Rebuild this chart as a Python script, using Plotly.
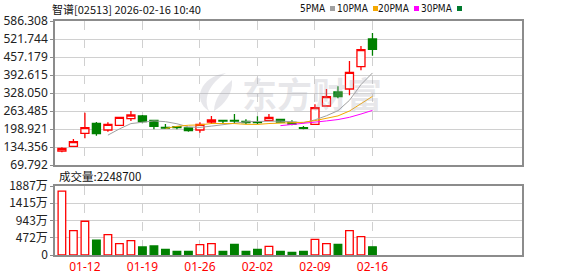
import plotly.graph_objects as go
import pandas as pd

# ---------------- data ----------------
dates = ["01-08", "01-09", "01-12", "01-13", "01-14", "01-15", "01-16",
         "01-19", "01-20", "01-21", "01-22", "01-23",
         "01-26", "01-27", "01-28", "01-29", "01-30",
         "02-02", "02-03", "02-04", "02-05", "02-06",
         "02-09", "02-10", "02-11", "02-12", "02-13", "02-16"]
opens = [120.0, 136.9, 183.5, 219.4, 195.3, 212.2, 235.9,
         245.6, 230.1, 205.0, 207.2, 202.5,
         195.3, 224.0, 230.1, 230.1, 226.5,
         225.0, 230.1, 233.7, 222.9, 203.6,
         215.8, 281.4, 331.6, 342.4, 422.4, 521.7]
highs = [133.3, 163.0, 257.4, 224.0, 223.0, 240.9, 263.5,
         249.1, 231.0, 216.8, 209.7, 203.0,
         223.0, 245.6, 230.5, 252.7, 233.7,
         244.5, 252.7, 234.5, 230.1, 209.7,
         287.5, 342.4, 352.1, 442.8, 496.6, 543.3]
lows = [115.3, 136.0, 165.6, 174.9, 189.2, 210.0, 227.8,
        219.4, 197.8, 198.9, 197.8, 189.2,
        185.6, 216.8, 216.8, 217.9, 215.8,
        215.8, 229.0, 222.0, 212.2, 197.8,
        214.0, 280.0, 309.0, 319.8, 409.5, 461.8]
closes = [129.7, 153.4, 203.6, 182.1, 215.8, 240.9, 249.1,
          225.1, 208.6, 202.5, 203.6, 192.8,
          215.8, 231.2, 227.6, 227.6, 221.5,
          222.0, 240.9, 224.0, 216.8, 201.4,
          275.3, 314.8, 314.8, 402.3, 483.4, 484.8]
volumes = [17450000, 6690000, 9230000, 4030000, 5590000, 3120000, 3950000,
           2190000, 2470000, 1560000, 1010000, 1010000,
           2850000, 3120000, 1010000, 2930000, 1010000,
           1560000, 2380000, 1010000, 740000, 1010000,
           4300000, 3120000, 2930000, 6690000, 5040000, 2248700]

price_ticks = [69.792, 134.356, 198.921, 263.485, 328.050, 392.615, 457.179, 521.744, 586.308]
price_tick_text = ["69.792", "134.356", "198.921", "263.485", "328.050",
                   "392.615", "457.179", "521.744", "586.308"]
vol_ticks = [0, 4717500, 9435000, 14152500, 18870000]
vol_tick_text = ["0", "472万", "943万", "1415万", "1887万"]
x_tick_labels = ["01-12", "01-19", "01-26", "02-02", "02-09", "02-16"]

title_text = "智谱[02513] 2026-02-16 10:40"
vol_title = "成交量:2248700"
watermark = "东方财富"
ma_names = ["5PMA", "10PMA", "20PMA", "30PMA"]
ma_windows = [5, 10, 20, 30]
ma_colors = ["#a0a0a0", "#f5a800", "#ff00ff", "#007a2e"]

# ---------------- geometry helpers ----------------
W, H = 578, 276
L, R, T, B = 55, 522, 21, 255


def px(x):
    return (x - L) / (R - L)


def py(y):
    return (B - y) / (B - T)


RED = "#ff0000"
GREEN = "#008000"
GRID = "#d0d0d0"
AXIS = "#8c8c8c"

xs = list(range(len(dates)))
close_s = pd.Series(closes)

fig = go.Figure()

fig.add_trace(go.Candlestick(
    x=xs, open=opens, high=highs, low=lows, close=closes,
    xaxis="x2", yaxis="y2",
    increasing=dict(line=dict(color=RED, width=1.3), fillcolor="#ffffff"),
    decreasing=dict(line=dict(color=GREEN, width=1.3), fillcolor=GREEN),
    whiskerwidth=0, showlegend=False, hoverinfo="skip",
))

for name, win, col in zip(ma_names, ma_windows, ma_colors):
    ma = close_s.rolling(win).mean()
    fig.add_trace(go.Scatter(
        x=xs, y=ma, mode="lines", line=dict(color=col, width=1),
        xaxis="x2", yaxis="y2", showlegend=False, hoverinfo="skip", name=name,
    ))

up = [c >= o for o, c in zip(opens, closes)]
fig.add_trace(go.Bar(
    x=xs, y=volumes, width=0.66,
    marker=dict(color=["#ffffff" if u else GREEN for u in up],
                line=dict(color=[RED if u else GREEN for u in up], width=1.3)),
    xaxis="x", yaxis="y", showlegend=False, hoverinfo="skip",
))

tick_idx = [dates.index(d) for d in x_tick_labels]
xrange = [-0.6, 40.0]

common_x = dict(range=xrange, tickvals=tick_idx, showgrid=True, gridcolor=GRID,
                griddash="dash", gridwidth=1, showline=True, linecolor=AXIS,
                linewidth=1.5, mirror=True, ticks="", zeroline=False, fixedrange=True,
                automargin=False)
common_y = dict(showgrid=True, gridcolor=GRID, showline=True, linecolor=AXIS,
                linewidth=1.5, mirror=True, ticks="outside", ticklen=3, tickcolor=AXIS,
                zeroline=False, fixedrange=True, automargin=False)

fig.update_layout(
    template="none",
    width=W, height=H,
    margin=dict(l=L, r=W - R, t=T, b=H - B, pad=0),
    paper_bgcolor="#ffffff", plot_bgcolor="#ffffff",
    font=dict(family="Noto Sans, DejaVu Sans, sans-serif", size=12, color="#222222"),
    xaxis=dict(**common_x, anchor="y", ticktext=x_tick_labels,
               tickfont=dict(color=RED, size=12)),
    xaxis2=dict(**common_x, anchor="y2", matches="x", showticklabels=False,
                rangeslider=dict(visible=False)),
    yaxis=dict(**common_y, domain=[0, py(186)], range=[0, vol_ticks[-1]],
               tickvals=vol_ticks, ticktext=vol_tick_text,
               tickfont=dict(family="Noto Sans CJK SC, Noto Sans, sans-serif", size=12)),
    yaxis2=dict(**common_y, domain=[py(165), 1], range=[price_ticks[0], price_ticks[-1]],
                tickvals=price_ticks, ticktext=price_tick_text),
    boxgap=0.3, boxgroupgap=0.0,
    hovermode=False,
)

annotations = [
    dict(text=title_text, x=px(50), y=py(9), xref="paper", yref="paper",
         xanchor="left", yanchor="middle", showarrow=False,
         font=dict(family="Noto Sans CJK SC", size=11, color="#111111")),
    dict(text=vol_title, x=px(57), y=py(176), xref="paper", yref="paper",
         xanchor="left", yanchor="middle", showarrow=False,
         font=dict(family="Noto Sans CJK SC", size=11.5, color="#111111")),
    dict(text="<b>" + watermark + "</b>", x=px(312), y=py(92), xref="paper", yref="paper",
         xanchor="center", yanchor="middle", showarrow=False,
         font=dict(family="Noto Sans CJK SC", size=35, color="rgba(170,170,182,0.28)")),
]

legend_pos = [(328, 330), (371, 373), (412, 414), (455, 457)]
shapes = []
for name, col, (tx, sx) in zip(ma_names, ma_colors, legend_pos):
    annotations.append(dict(text=name, x=px(tx), y=py(9), xref="paper", yref="paper",
                            xanchor="right", yanchor="middle", showarrow=False,
                            font=dict(family="DejaVu Sans Condensed, Liberation Sans, sans-serif",
                                      size=10, color="#111111")))
    shapes.append(dict(type="rect", xref="paper", yref="paper",
                       x0=px(sx), x1=px(sx + 5), y0=py(11), y1=py(6),
                       fillcolor=col, line=dict(width=0)))


def path_px(cmds):
    out = []
    for c in cmds:
        if isinstance(c, str):
            out.append(c)
        else:
            out.append("%.5f,%.5f" % (px(c[0]), py(c[1])))
    return " ".join(out)


logo1 = path_px(["M", (226, 73), "C", (200, 77), (192, 100), (209, 111),
                 "C", (203, 98), (209, 84), (226, 73), "Z"])
logo2 = path_px(["M", (232, 80), "C", (223, 88), (214, 99), (214, 111),
                 "C", (225, 104), (233, 94), (232, 80), "Z"])
for p in (logo1, logo2):
    shapes.append(dict(type="path", xref="paper", yref="paper", path=p,
                       fillcolor="rgba(170,170,182,0.28)", line=dict(width=0)))

fig.update_layout(annotations=annotations, shapes=shapes)

fig.write_html("out.html")
